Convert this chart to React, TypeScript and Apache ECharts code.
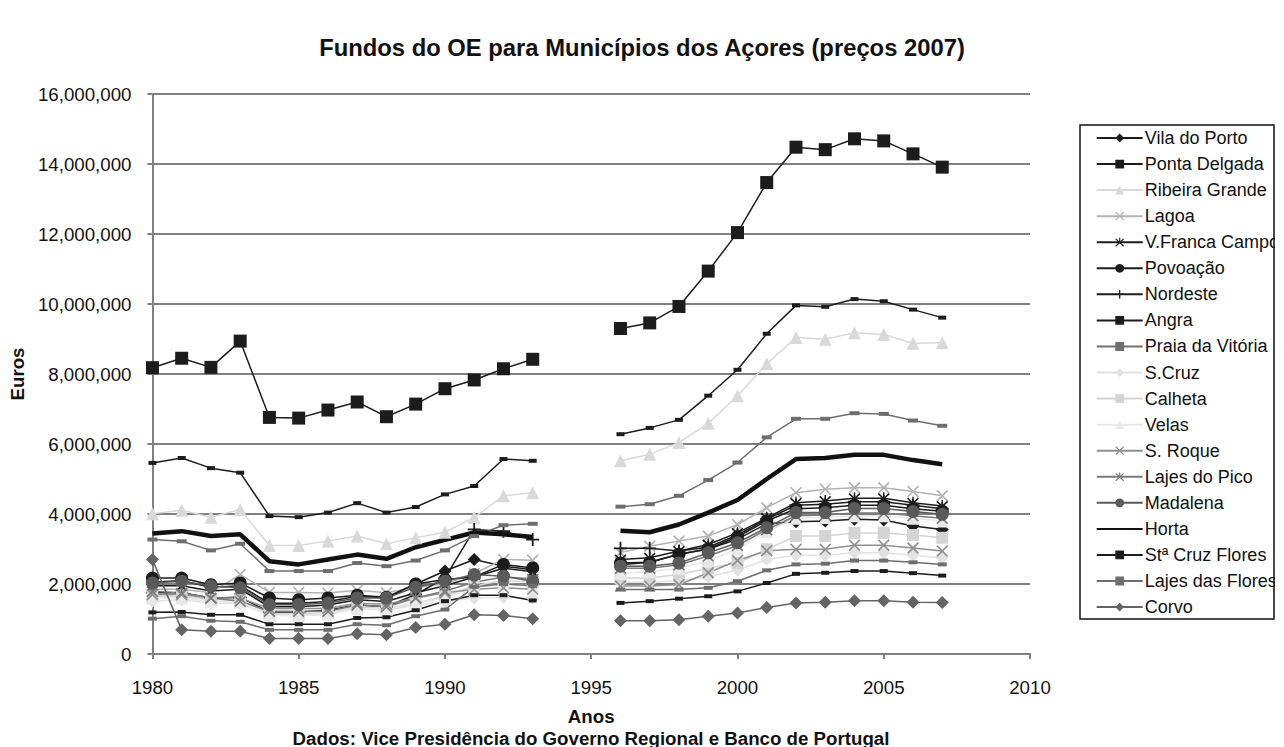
import React, { useEffect, useRef } from "react";
import * as echarts from "echarts";

const years = [1980, 1981, 1982, 1983, 1984, 1985, 1986, 1987, 1988, 1989, 1990, 1991, 1992, 1993, 1994, 1995, 1996, 1997, 1998, 1999, 2000, 2001, 2002, 2003, 2004, 2005, 2006, 2007];
const xTicks = [1980, 1985, 1990, 1995, 2000, 2005, 2010];

// values in millions of euros (null = no data)
const vilaDoPorto = [2.05, 2.10, 1.90, 1.95, 1.45, 1.45, 1.50, 1.65, 1.60, 2.00, 2.37, 2.70, 2.51, 2.41, null, null, 2.55, 2.62, 2.85, 3.00, 3.28, 3.72, 3.78, 3.80, 3.85, 3.83, 3.66, 3.56];
const pontaDelgada = [8.18, 8.45, 8.19, 8.94, 6.76, 6.74, 6.97, 7.20, 6.78, 7.14, 7.58, 7.83, 8.15, 8.42, null, null, 9.30, 9.46, 9.93, 10.94, 12.04, 13.47, 14.48, 14.41, 14.72, 14.66, 14.29, 13.91];
const ribeiraGrande = [4.01, 4.11, 3.91, 4.13, 3.10, 3.10, 3.23, 3.37, 3.15, 3.32, 3.48, 3.90, 4.52, 4.61, null, null, 5.52, 5.71, 6.04, 6.59, 7.38, 8.29, 9.04, 8.99, 9.18, 9.13, 8.88, 8.89];
const lagoa = [1.85, 1.85, 1.75, 2.27, 1.76, 1.76, 1.74, 1.82, 1.75, 1.90, 2.00, 2.30, 2.70, 2.68, null, null, 2.90, 3.08, 3.23, 3.37, 3.70, 4.18, 4.61, 4.71, 4.75, 4.75, 4.64, 4.52];
const vFrancaCampo = [1.95, 1.95, 1.80, 1.85, 1.35, 1.35, 1.40, 1.55, 1.50, 1.75, 1.95, 2.20, 2.45, 2.35, null, null, 2.70, 2.75, 2.94, 3.13, 3.46, 3.89, 4.32, 4.37, 4.45, 4.45, 4.32, 4.23];
const povoacao = [2.17, 2.17, 1.98, 2.03, 1.60, 1.55, 1.60, 1.68, 1.62, 2.00, 2.13, 2.20, 2.56, 2.46, null, null, 2.60, 2.62, 2.85, 3.00, 3.35, 3.80, 4.15, 4.18, 4.25, 4.25, 4.15, 4.08];
const nordeste = [1.75, 1.75, 1.60, 1.62, 1.20, 1.20, 1.25, 1.40, 1.35, 1.70, 2.17, 3.56, 3.51, 3.27, null, null, 3.02, 3.02, 2.94, 3.05, 3.40, 3.85, 4.25, 4.28, 4.35, 4.35, 4.25, 4.15];
const angra = [5.46, 5.60, 5.31, 5.18, 3.94, 3.91, 4.04, 4.31, 4.04, 4.20, 4.56, 4.80, 5.57, 5.52, null, null, 6.28, 6.46, 6.69, 7.38, 8.12, 9.15, 9.96, 9.92, 10.14, 10.08, 9.84, 9.61];
const praiaDaVitoria = [3.27, 3.22, 2.96, 3.15, 2.37, 2.37, 2.37, 2.60, 2.51, 2.67, 2.96, 3.37, 3.68, 3.72, null, null, 4.21, 4.28, 4.52, 4.97, 5.47, 6.19, 6.72, 6.72, 6.88, 6.86, 6.67, 6.52];
const sCruz = [1.51, 1.55, 1.45, 1.45, 1.10, 1.10, 1.12, 1.30, 1.25, 1.40, 1.50, 1.60, 1.62, 1.60, null, null, 2.05, 2.05, 2.10, 2.20, 2.40, 2.70, 2.82, 2.82, 2.89, 2.89, 2.82, 2.75];
const calheta = [1.65, 1.65, 1.55, 1.55, 1.15, 1.15, 1.18, 1.35, 1.30, 1.45, 1.65, 1.95, 2.10, 2.05, null, null, 2.17, 2.17, 2.27, 2.45, 2.60, 2.99, 3.37, 3.37, 3.46, 3.46, 3.40, 3.32];
const velas = [1.60, 1.60, 1.50, 1.48, 1.10, 1.10, 1.15, 1.30, 1.28, 1.45, 1.60, 1.90, 2.00, 1.95, null, null, 2.30, 2.35, 2.45, 2.65, 3.00, 3.50, 3.88, 3.90, 3.95, 3.95, 3.88, 3.80];
const sRoque = [1.70, 1.70, 1.60, 1.60, 1.30, 1.30, 1.30, 1.45, 1.42, 1.60, 1.75, 1.85, 1.89, 1.85, null, null, 1.94, 1.94, 1.98, 2.32, 2.67, 2.95, 2.99, 2.99, 3.11, 3.11, 3.03, 2.94];
const lajesDoPico = [1.79, 1.75, 1.60, 1.51, 1.22, 1.22, 1.22, 1.40, 1.35, 1.60, 1.80, 2.05, 2.20, 2.15, null, null, 2.45, 2.45, 2.55, 2.80, 3.10, 3.55, 3.95, 3.97, 4.03, 4.03, 3.95, 3.88];
const madalena = [2.03, 2.08, 1.94, 1.89, 1.41, 1.41, 1.46, 1.60, 1.60, 1.91, 2.08, 2.27, 2.22, 2.08, null, null, 2.51, 2.51, 2.60, 2.89, 3.18, 3.61, 4.04, 4.04, 4.16, 4.16, 4.07, 3.99];
const horta = [3.44, 3.51, 3.37, 3.42, 2.65, 2.56, 2.70, 2.84, 2.72, 3.05, 3.26, 3.47, 3.42, 3.34, null, null, 3.52, 3.48, 3.70, 4.04, 4.40, 5.00, 5.57, 5.60, 5.69, 5.69, 5.54, 5.42];
const stCruzFlores = [1.19, 1.20, 1.12, 1.12, 0.85, 0.85, 0.85, 1.03, 1.05, 1.25, 1.51, 1.68, 1.68, 1.53, null, null, 1.46, 1.51, 1.58, 1.65, 1.79, 2.03, 2.29, 2.32, 2.37, 2.37, 2.31, 2.24];
const lajesDasFlores = [1.01, 1.08, 0.95, 0.92, 0.69, 0.69, 0.69, 0.85, 0.82, 1.08, 1.27, 1.92, 2.00, 1.95, null, null, 1.84, 1.84, 1.84, 1.89, 2.08, 2.39, 2.56, 2.58, 2.67, 2.67, 2.62, 2.56];
const corvo = [2.70, 0.69, 0.65, 0.65, 0.44, 0.44, 0.44, 0.58, 0.55, 0.76, 0.85, 1.12, 1.10, 1.01, null, null, 0.95, 0.95, 0.98, 1.08, 1.17, 1.33, 1.46, 1.48, 1.52, 1.52, 1.48, 1.47];

const X_PATH = "path://M0,1 L1,0 L5,4 L9,0 L10,1 L6,5 L10,9 L9,10 L5,6 L1,10 L0,9 L4,5 Z";
const STAR_PATH = "path://M0,1.6 L1,0.6 L5,4.4 L9,0.6 L10,1.6 L6,5.2 L10,8.8 L9,9.8 L5,6 L1,9.8 L0,8.8 L4,5.2 Z M4.4,0 L5.6,0 L5.6,5 L4.4,5 Z";
const PLUS_PATH = "path://M4.3,0 L5.7,0 L5.7,4.3 L10,4.3 L10,5.7 L5.7,5.7 L5.7,10 L4.3,10 L4.3,5.7 L0,5.7 L0,4.3 L4.3,4.3 Z";

type Def = { name: string; data: (number | null)[]; color: string; symbol: string; size: number | number[]; width: number };

const seriesDefs: Def[] = [
  { name: "Vila do Porto", data: vilaDoPorto, color: "#1c1c1c", symbol: "diamond", size: 13, width: 1.5 },
  { name: "Ponta Delgada", data: pontaDelgada, color: "#1c1c1c", symbol: "rect", size: 13, width: 1.5 },
  { name: "Ribeira Grande", data: ribeiraGrande, color: "#d9d9d9", symbol: "triangle", size: 13, width: 1.5 },
  { name: "Lagoa", data: lagoa, color: "#b3b3b3", symbol: X_PATH, size: 12, width: 1.5 },
  { name: "V.Franca Campo", data: vFrancaCampo, color: "#1c1c1c", symbol: STAR_PATH, size: 12, width: 1.5 },
  { name: "Povoação", data: povoacao, color: "#1c1c1c", symbol: "circle", size: 13, width: 1.5 },
  { name: "Nordeste", data: nordeste, color: "#1c1c1c", symbol: PLUS_PATH, size: 13, width: 1.5 },
  { name: "Angra", data: angra, color: "#1c1c1c", symbol: "rect", size: [8, 4], width: 1.5 },
  { name: "Praia da Vitória", data: praiaDaVitoria, color: "#6e6e6e", symbol: "rect", size: [10, 4], width: 1.5 },
  { name: "S.Cruz", data: sCruz, color: "#e2e2e2", symbol: "diamond", size: 13, width: 1.5 },
  { name: "Calheta", data: calheta, color: "#d4d4d4", symbol: "rect", size: 12, width: 1.5 },
  { name: "Velas", data: velas, color: "#e8e8e8", symbol: "triangle", size: 13, width: 1.5 },
  { name: "S. Roque", data: sRoque, color: "#8f8f8f", symbol: X_PATH, size: 12, width: 1.5 },
  { name: "Lajes do Pico", data: lajesDoPico, color: "#7a7a7a", symbol: STAR_PATH, size: 12, width: 1.5 },
  { name: "Madalena", data: madalena, color: "#5a5a5a", symbol: "circle", size: 13, width: 1.5 },
  { name: "Horta", data: horta, color: "#111111", symbol: "none", size: 0, width: 4.5 },
  { name: "Stª Cruz Flores", data: stCruzFlores, color: "#1c1c1c", symbol: "rect", size: [8, 4], width: 1.5 },
  { name: "Lajes das Flores", data: lajesDasFlores, color: "#6e6e6e", symbol: "rect", size: [9, 4], width: 1.5 },
  { name: "Corvo", data: corvo, color: "#646464", symbol: "diamond", size: 13, width: 1.5 },
];

const FONT = "'Liberation Sans', Arial, sans-serif";
const FS = 18.7;

export default function App() {
  const ref = useRef<HTMLDivElement>(null);
  useEffect(() => {
    if (!ref.current) return;
    const chart = echarts.init(ref.current, null, { renderer: "svg" });
    const series = seriesDefs.map((d) => ({
      name: d.name,
      type: "line",
      data: years.map((y, i) => [y, d.data[i]]),
      symbol: d.symbol,
      symbolSize: d.size,
      showSymbol: d.symbol !== "none",
      connectNulls: false,
      lineStyle: { color: d.color, width: d.width },
      itemStyle: { color: d.color, borderColor: d.color, borderWidth: 0 },
      emphasis: { disabled: true },
    }));
    chart.setOption({
      animation: false,
      backgroundColor: "#ffffff",
      textStyle: { fontFamily: FONT },
      grid: { left: 152, right: 254, top: 94, bottom: 93, containLabel: false },
      xAxis: {
        type: "value",
        min: 1980,
        max: 2010,
        interval: 5,
        name: "Anos",
        nameLocation: "middle",
        nameGap: 53,
        nameTextStyle: { fontFamily: FONT, fontWeight: "bold", fontSize: FS, color: "#111" },
        axisLine: { show: true, onZero: false, lineStyle: { color: "#808080", width: 2 } },
        axisTick: { show: true, length: 5, lineStyle: { color: "#808080", width: 2 } },
        axisLabel: { fontFamily: FONT, fontSize: FS, color: "#111", margin: 24, formatter: (v: number) => (xTicks.includes(v) ? String(v) : "") },
        splitLine: { show: false },
      },
      yAxis: {
        type: "value",
        min: 0,
        max: 16,
        interval: 2,
        name: "Euros",
        nameLocation: "middle",
        nameGap: 116,
        nameRotate: 90,
        nameTextStyle: { fontFamily: FONT, fontWeight: "bold", fontSize: FS, color: "#111" },
        axisLine: { show: true, lineStyle: { color: "#808080", width: 2 } },
        axisTick: { show: true, length: 5, lineStyle: { color: "#808080", width: 2 } },
        axisLabel: { fontFamily: FONT, fontSize: FS, color: "#111", margin: 21, formatter: (v: number) => (v * 1000000).toLocaleString("en-US") },
        splitLine: { show: true, lineStyle: { color: "#808080", width: 2 } },
      },
      legend: {
        orient: "vertical",
        left: 1080,
        top: 125,
        padding: [4, 0, 3, 15.7],
        itemWidth: 46,
        itemHeight: 11,
        itemGap: 8.06,
        borderWidth: 0,
        textStyle: { fontFamily: FONT, fontSize: 18, color: "#111", padding: [0, 0, 0, -3] },
        data: seriesDefs.map((d) => (d.symbol === "none" ? { name: d.name, itemStyle: { opacity: 0 } } : d.name)),
      },
      graphic: [
        {
          type: "rect",
          z: 100,
          shape: { x: 1080, y: 125, width: 194, height: 494 },
          style: { fill: "transparent", stroke: "#111", lineWidth: 1.5 },
        },
        {
          type: "rect",
          z: 100,
          shape: { x: 1275, y: 120, width: 9, height: 505 },
          style: { fill: "#fff", stroke: "none" },
        },
        {
          type: "text",
          x: 642,
          y: 47,
          style: { text: "Fundos do OE para Municípios dos Açores (preços 2007)", font: `bold 23.8px ${FONT}`, fill: "#111", align: "center", verticalAlign: "middle" },
        },
        {
          type: "text",
          x: 591,
          y: 738,
          style: { text: "Dados: Vice Presidência do Governo Regional e Banco de Portugal", font: `bold ${FS}px ${FONT}`, fill: "#111", align: "center", verticalAlign: "middle" },
        },
      ],
      series,
    });
    return () => chart.dispose();
  }, []);
  return <div ref={ref} style={{ position: "fixed", left: 0, top: 0, width: 1284, height: 747 }} />;
}
